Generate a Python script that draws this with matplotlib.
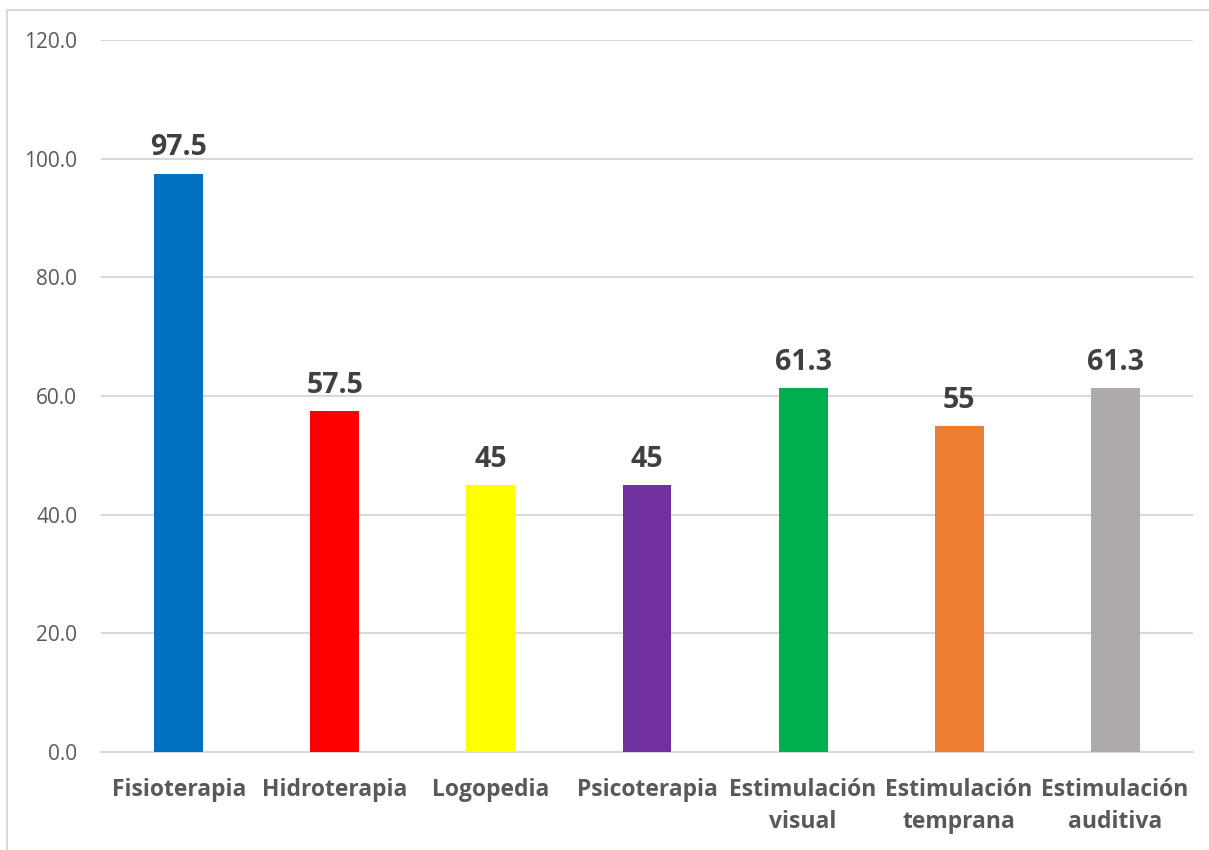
import matplotlib
matplotlib.use("Agg")
import matplotlib.pyplot as plt
from matplotlib.patches import Rectangle

# therapy categories and their values
categories = ["Fisioterapia", "Hidroterapia", "Logopedia", "Psicoterapia",
              "Estimulación\nvisual", "Estimulación\ntemprana", "Estimulación\nauditiva"]
values = [97.5, 57.5, 45, 45, 61.3, 55, 61.3]
value_labels = ["97.5", "57.5", "45", "45", "61.3", "55", "61.3"]
colors = ["#0070c0", "#ff0000", "#ffff00", "#7030a0", "#00b050", "#ed7d31", "#aeaaaa"]
yticks = [0, 20, 40, 60, 80, 100, 120]

plt.rcParams['font.family'] = ['Open Sans', 'DejaVu Sans']

fig = plt.figure(figsize=(12.09, 8.5), dpi=100)
ax = fig.add_axes([0.0835, 0.1153, 0.9033, 0.8376])

x = list(range(len(categories)))
bars = ax.bar(x, values, width=0.314, color=colors, zorder=3)

for rect, lab in zip(bars, value_labels):
    ax.annotate(lab, (rect.get_x() + rect.get_width() / 2, rect.get_height()),
                xytext=(0, 8), textcoords="offset points", ha="center", va="bottom",
                fontsize=20.5, fontweight="bold", color="#404040")

ax.set_xlim(-0.5, len(categories) - 0.5)
ax.set_ylim(0, 120)
ax.set_yticks(yticks)
ax.set_yticklabels([f"{v:.1f}" for v in yticks], fontsize=15, color="#595959")
ax.set_xticks(x)
ax.set_xticklabels(categories, fontsize=16.5, fontweight="bold", color="#595959",
                   linespacing=1.45)

ax.grid(axis="y", color="#d9d9d9", linewidth=1.5, zorder=0)
for side in ["left", "right", "top"]:
    ax.spines[side].set_visible(False)
ax.spines["bottom"].set_color("#d9d9d9")
ax.spines["bottom"].set_linewidth(1.5)
ax.tick_params(axis="both", length=0)
ax.tick_params(axis="y", pad=17)
ax.tick_params(axis="x", pad=18.5)

# chart area outline
fig.patches.append(Rectangle((7 / 1209, -0.1), 1.2, 1 - 10 / 850 + 0.1,
                             transform=fig.transFigure, fill=False,
                             edgecolor="#d9d9d9", linewidth=1.5))

fig.savefig("out.png", dpi=100)
